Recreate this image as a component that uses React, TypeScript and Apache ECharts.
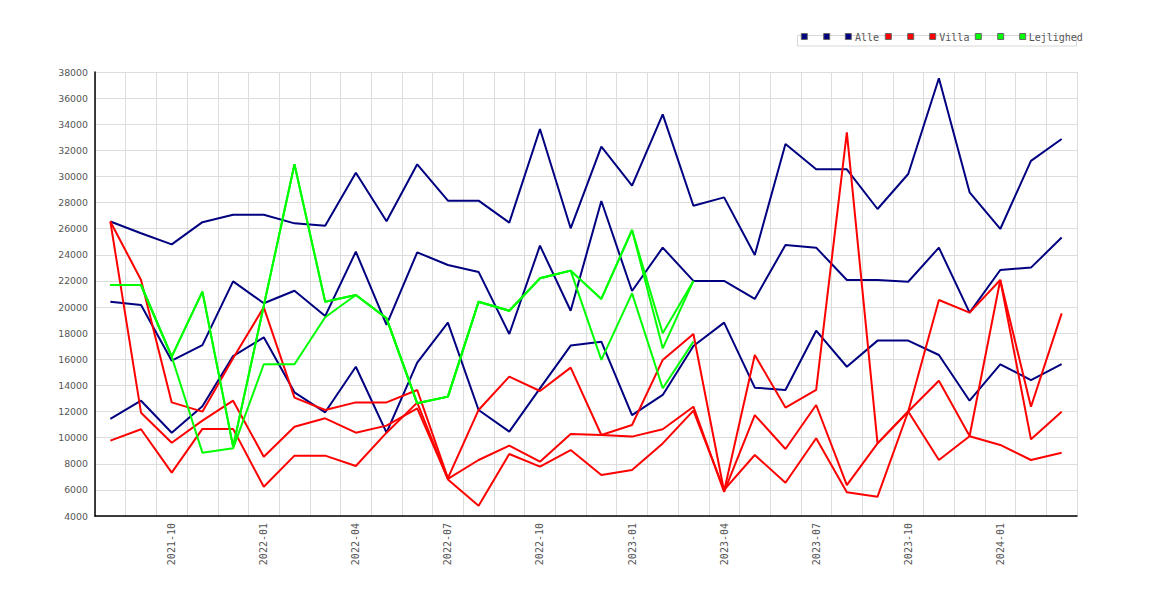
import React, { useEffect, useRef } from "react";
import * as echarts from "echarts";

const months = [
  "2021-08", "2021-09", "2021-10", "2021-11", "2021-12",
  "2022-01", "2022-02", "2022-03", "2022-04", "2022-05", "2022-06", "2022-07", "2022-08", "2022-09", "2022-10", "2022-11", "2022-12",
  "2023-01", "2023-02", "2023-03", "2023-04", "2023-05", "2023-06", "2023-07", "2023-08", "2023-09", "2023-10", "2023-11", "2023-12",
  "2024-01", "2024-02", "2024-03",
];

const alle1 = [26550, 25650, 24800, 26500, 27070, 27070, 26410, 26230, 30290, 26570, 30930, 28150, 28150, 26470, 33640, 26030, 32280, 29300, 34760, 27760, 28400, 23990, 32490, 30550, 30550, 27510, 30190, 37520, 28790, 25980, 31190, 32870];
const alle2 = [20410, 20160, 15890, 17090, 21970, 20290, 21250, 19310, 24240, 18630, 24190, 23220, 22690, 17940, 24700, 19720, 28120, 21230, 24550, 22000, 22000, 20620, 24750, 24550, 22070, 22070, 21940, 24550, 19570, 22840, 23020, 25320];
const alle3 = [11430, 12830, 10380, 12400, 16250, 17680, 13470, 11940, 15430, 10380, 15740, 18810, 12120, 10460, 13770, 17050, 17350, 11730, 13270, 17020, 18810, 13830, 13650, 18190, 15430, 17430, 17430, 16330, 12830, 15610, 14410, 15630];

const villa1 = [26550, 22070, 12700, 11990, 16080, 19980, 13060, 12120, 12700, 12700, 13650, 6900, 12120, 14670, 13570, 15360, 10200, 10970, 15950, 17940, 5900, 16330, 12300, 13650, 33380, 9560, 12000, 14360, 10130, 22070, 12370, 19520];
const villa2 = [26550, 11910, 9610, 11300, 12830, 8540, 10840, 11480, 10380, 10920, 12240, 6850, 8290, 9390, 8160, 10280, 10200, 10080, 10640, 12370, 5850, 11730, 9130, 12500, 6370, 9560, 12000, 8290, 10110, 9440, 8290, 8850];
const villa3 = [9770, 10640, 7320, 10670, 10670, 6240, 8620, 8620, 7830, 10380, 12680, 6800, 4790, 8750, 7780, 9050, 7140, 7520, 9560, 12070, 6000, 8670, 6550, 9950, 5810, 5480, 12000, 20540, 19570, 22070, 9870, 11990];

const lej1 = [21690, 21690, 16200, 21180, 9310, 20100, 30930, 20410, 20920, 19140, 12630, 13140, 20410, 19720, 22200, 22790, 20620, 25900, 17990, 22000, null, null, null, null, null, null, null, null, null, null, null, null];
const lej2 = [21690, 21690, 16200, 21180, 9310, 20100, 30930, 20410, 20920, 19140, 12630, 13140, 20410, 19720, 22200, 22790, 20620, 25900, 16840, 22000, null, null, null, null, null, null, null, null, null, null, null, null];
const lej3 = [21690, 21690, 16200, 8850, 9180, 15620, 15620, 19220, 20920, 19140, 12630, 13140, 20410, 19720, 22200, 22790, 15950, 21050, 13780, 17350, null, null, null, null, null, null, null, null, null, null, null, null];

const yTicks = { min: 4000, max: 38000, step: 2000 };

const groups = [
  { name: "Alle", color: "#000080", data: [alle1, alle2, alle3] },
  { name: "Villa", color: "#ff0000", data: [villa1, villa2, villa3] },
  { name: "Lejlighed", color: "#00ff00", data: [lej1, lej2, lej3] },
];

export default function App() {
  const ref = useRef<HTMLDivElement>(null);

  useEffect(() => {
    const chart = echarts.init(ref.current as HTMLDivElement, null, { renderer: "svg" });

    const series: any[] = [];
    groups.forEach((g) => {
      g.data.forEach((d, k) => {
        series.push({
          type: "line",
          name: g.name + (k < 2 ? "_" + k : ""),
          data: d,
          symbol: "none",
          connectNulls: false,
          lineStyle: { color: g.color, width: 2 },
          itemStyle: { color: g.color },
        });
      });
    });

    // legend drawn as graphic elements
    const legendEls: any[] = [
      {
        type: "rect",
        shape: { x: 797.5, y: 35.5, width: 279, height: 10.5 },
        style: { fill: "#fff", stroke: "#d8d8d8", lineWidth: 1 },
        z: 10,
      },
    ];
    const markerX = [804.3, 826.7, 848.3, 888.3, 910.7, 932.7, 978.3, 1000.7, 1022.7];
    const textX = [855, 939.3, 1028.7];
    groups.forEach((g, gi) => {
      for (let k = 0; k < 3; k++) {
        const cx = markerX[gi * 3 + k];
        legendEls.push({
          type: "rect",
          shape: { x: cx - 3, y: 33.5, width: 6, height: 6 },
          style: { fill: g.color, stroke: "#666666", lineWidth: 1 },
          z: 11,
        });
      }
      legendEls.push({
        type: "text",
        x: textX[gi],
        y: 37,
        style: {
          text: g.name,
          fill: "#555555",
          font: "10px 'DejaVu Sans Mono'",
          verticalAlign: "middle",
          align: "left",
        },
        z: 11,
      });
    });

    chart.setOption({
      animation: false,
      backgroundColor: "#ffffff",
      grid: { left: 95, top: 72, width: 982, height: 444, containLabel: false },
      xAxis: {
        type: "category",
        data: months,
        boundaryGap: true,
        axisLine: { show: true, lineStyle: { color: "#000000", width: 1.5 } },
        axisTick: { show: false },
        axisLabel: {
          interval: (index: number) => (index - 2) % 3 === 0,
          rotate: 90,
          margin: 7,
          color: "#555555",
          fontFamily: "DejaVu Sans Mono",
          fontSize: 10,
        },
        splitLine: { show: true, interval: 0, lineStyle: { color: "#dddddd", width: 1 } },
      },
      yAxis: {
        type: "value",
        min: yTicks.min,
        max: yTicks.max,
        interval: yTicks.step,
        axisLine: { show: true, lineStyle: { color: "#000000", width: 1.5 } },
        axisTick: { show: false },
        axisLabel: {
          margin: 7,
          color: "#555555",
          fontFamily: "DejaVu Sans",
          fontSize: 9.4,
          formatter: (v: number) => String(v),
        },
        splitLine: { show: true, lineStyle: { color: "#dddddd", width: 1 } },
      },
      series,
      graphic: legendEls,
    });

    return () => chart.dispose();
  }, []);

  return (
    <div
      ref={ref}
      style={{ position: "absolute", left: 0, top: 0, width: 1170, height: 600, background: "#ffffff" }}
    />
  );
}
